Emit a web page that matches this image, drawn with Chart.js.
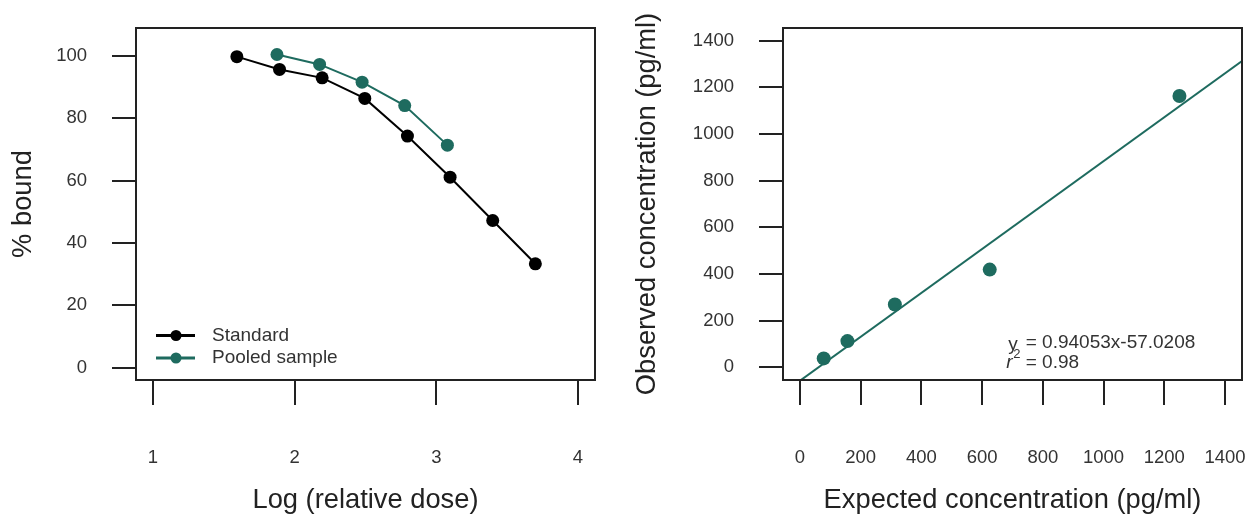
<!DOCTYPE html>
<html>
<head>
<meta charset="utf-8">
<script src="https://cdn.jsdelivr.net/npm/chart.js@4.4.1/dist/chart.umd.min.js"></script>
<style>
  body { margin: 0; background: #fff; }
  #wrap { position: relative; width: 1258px; height: 519px; }
  canvas { position: absolute; top: 0; }
</style>
</head>
<body>
<div id="wrap">
  <canvas id="left" width="629" height="519" style="left:0"></canvas>
  <canvas id="right" width="629" height="519" style="left:629px"></canvas>
</div>
<script>
// left panel: binding curves
const doseStandard = [1.592, 1.893, 2.194, 2.495, 2.796, 3.097, 3.398, 3.699];
const boundStandard = [99.8, 95.7, 93.0, 86.4, 74.3, 61.1, 47.2, 33.3];
const dosePooled = [1.875, 2.176, 2.476, 2.777, 3.078];
const boundPooled = [100.5, 97.3, 91.6, 84.1, 71.4];
const doseTicks = [1, 2, 3, 4];
const boundTicks = [0, 20, 40, 60, 80, 100];

// right panel: expected vs observed
const expectedConc = [78.125, 156.25, 312.5, 625, 1250];
const observedConc = [38.5, 112.6, 269.5, 419, 1163];
const concTicks = [0, 200, 400, 600, 800, 1000, 1200, 1400];
const fitSlope = 0.94053;
const fitIntercept = -57.0208;
const fitR2 = 0.98;

const teal = '#1e6b5f';
const ink = '#222';
const FONT = '"Liberation Sans", Arial, Helvetica, sans-serif';

Chart.defaults.font.family = FONT;
Chart.defaults.color = '#333';

// draws the plot frame like R's box()
const boxPlugin = {
  id: 'box',
  afterDatasetsDraw(chart) {
    const a = chart.chartArea, ctx = chart.ctx;
    ctx.save();
    ctx.strokeStyle = ink;
    ctx.lineWidth = 2;
    ctx.strokeRect(a.left, a.top, a.right - a.left, a.bottom - a.top);
    ctx.restore();
  }
};

function makeAxis(ticks, min, max, title, side, w, titlePad) {
  return {
    type: 'linear',
    position: side,
    min: min,
    max: max,
    afterBuildTicks: (s) => { s.ticks = ticks.map(v => ({ value: v })); },
    afterFit: (s) => {
      if (side === 'left') s.width = w; else s.height = w;
      // let layout.padding alone decide the plot area
      s.paddingTop = 0; s.paddingBottom = 0; s.paddingLeft = 0; s.paddingRight = 0;
    },
    grid: { drawOnChartArea: false, drawTicks: true, tickLength: side === 'left' ? 24 : 25, color: ink, lineWidth: 2 },
    border: { display: false },
    ticks: { font: { size: 18.5 }, color: '#333', padding: side === 'left' ? 25 : 42, autoSkip: false, maxRotation: 0,
      callback: (v) => v },
    title: { display: true, text: title, font: { size: 27.3 }, color: ink, padding: titlePad }
  };
}

// legend drawn inside the plot, bottom left
const legendPlugin = {
  id: 'innerLegend',
  afterDraw(chart) {
    const a = chart.chartArea, ctx = chart.ctx;
    const rows = [a.bottom - 44.5, a.bottom - 22];
    ctx.save();
    chart.data.datasets.forEach((ds, i) => {
      const y = rows[i];
      ctx.strokeStyle = ds.borderColor;
      ctx.fillStyle = ds.borderColor;
      ctx.lineWidth = 3;
      ctx.beginPath();
      ctx.moveTo(a.left + 20, y);
      ctx.lineTo(a.left + 59, y);
      ctx.stroke();
      ctx.beginPath();
      ctx.arc(a.left + 40, y, 5.5, 0, Math.PI * 2);
      ctx.fill();
      ctx.fillStyle = '#333';
      ctx.font = '19px ' + FONT;
      ctx.textBaseline = 'middle';
      ctx.fillText(ds.label, a.left + 76, y);
    });
    ctx.restore();
  }
};

new Chart(document.getElementById('left'), {
  type: 'line',
  data: {
    datasets: [
      { label: 'Standard', data: doseStandard.map((x, i) => ({ x: x, y: boundStandard[i] })),
        borderColor: '#000', backgroundColor: '#000', borderWidth: 2, pointRadius: 6.5, pointBorderWidth: 0 },
      { label: 'Pooled sample', data: dosePooled.map((x, i) => ({ x: x, y: boundPooled[i] })),
        borderColor: teal, backgroundColor: teal, borderWidth: 2, pointRadius: 6.5, pointBorderWidth: 0 }
    ]
  },
  options: {
    responsive: false,
    animation: false,
    layout: { padding: { left: 0, top: 28, right: 34, bottom: 0 } },
    plugins: { legend: { display: false }, tooltip: { enabled: false } },
    scales: {
      x: makeAxis(doseTicks, 0.88, 4.12, 'Log (relative dose)', 'bottom', 139, { bottom: 2 }),
      y: makeAxis(boundTicks, -4, 109, '% bound', 'left', 136, { top: 6.8 })
    }
  },
  plugins: [boxPlugin, legendPlugin]
});

// equation text, R plotmath style
const eqPlugin = {
  id: 'equation',
  afterDraw(chart) {
    const ctx = chart.ctx;
    const x0 = chart.scales.x.getPixelForValue(686);
    const y1 = chart.scales.y.getPixelForValue(106);
    const y2 = y1 + 20;
    ctx.save();
    ctx.fillStyle = '#333';
    ctx.textBaseline = 'middle';
    ctx.font = '19px ' + FONT;
    ctx.fillText('y', x0, y1 + 2);
    ctx.fillText('= ' + fitSlope + 'x' + fitIntercept, x0 + 17.5, y1);
    ctx.font = 'italic 19px ' + FONT;
    ctx.fillText('r', x0 - 2, y2);
    ctx.font = '13px ' + FONT;
    ctx.fillText('2', x0 + 5, y2 - 8);
    ctx.font = '19px ' + FONT;
    ctx.fillText('= ' + fitR2, x0 + 17.5, y2);
    ctx.restore();
  }
};

const xFitEnds = [-56, 1456];

new Chart(document.getElementById('right'), {
  type: 'scatter',
  data: {
    datasets: [
      { label: 'fit', type: 'line', data: xFitEnds.map(x => ({ x: x, y: fitSlope * x + fitIntercept })),
        borderColor: teal, borderWidth: 2, pointRadius: 0 },
      { label: 'samples', data: expectedConc.map((x, i) => ({ x: x, y: observedConc[i] })),
        backgroundColor: teal, borderWidth: 0, pointRadius: 7 }
    ]
  },
  options: {
    responsive: false,
    animation: false,
    layout: { padding: { left: 0, top: 28, right: 16, bottom: 0 } },
    plugins: { legend: { display: false }, tooltip: { enabled: false } },
    scales: {
      x: makeAxis(concTicks, -56, 1456, 'Expected concentration (pg/ml)', 'bottom', 139, { bottom: 2 }),
      y: makeAxis(concTicks, -54, 1454, 'Observed concentration (pg/ml)', 'left', 154, { top: 2.5 })
    }
  },
  plugins: [boxPlugin, eqPlugin]
});
</script>
</body>
</html>
